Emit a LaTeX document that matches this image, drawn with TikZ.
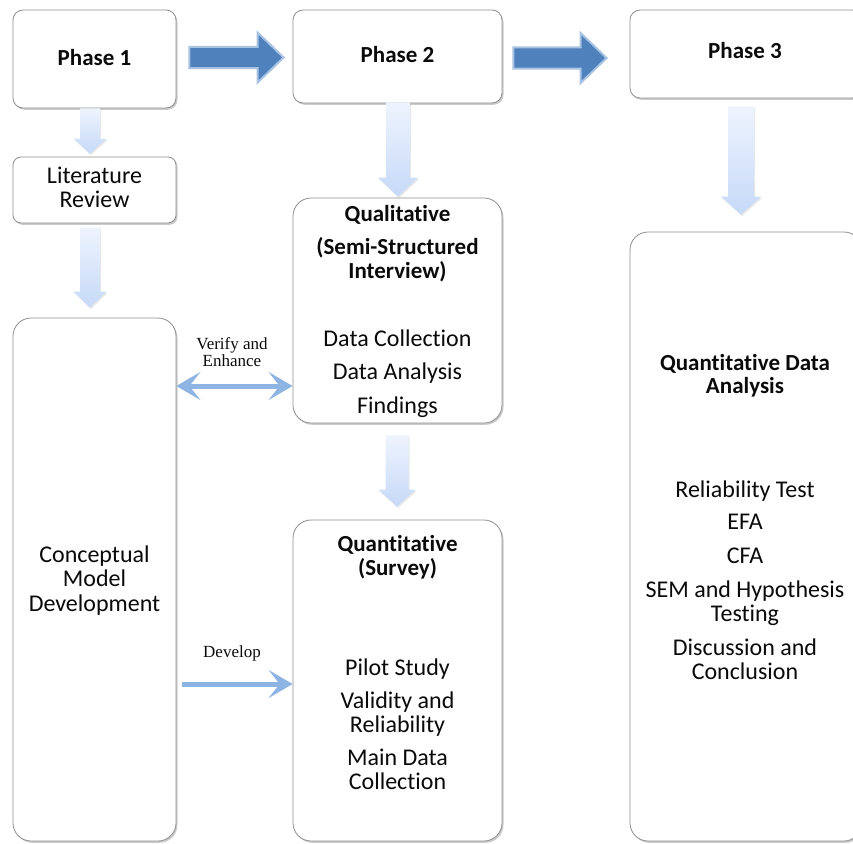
\documentclass[tikz,border=0pt]{standalone}
\usepackage{fontspec}
\setmainfont[RawFeature={-liga;-clig;-calt;-dlig}]{Carlito}
\newfontfamily\labelserif{Liberation Serif}
\usetikzlibrary{arrows.meta,calc,shadows}

\definecolor{boxline}{HTML}{8F8F8F}
\definecolor{bigblue}{HTML}{4F81BD}
\definecolor{bigrim}{HTML}{A8C2E2}
\definecolor{paletop}{HTML}{EEF4FE}
\definecolor{palebot}{HTML}{C6D9F8}
\definecolor{linkblue}{HTML}{8DB4E2}
\definecolor{inktext}{HTML}{0A0A0A}

% horizontal block arrow: from, to, start gap, end gap, vertical offset
\newcommand{\blockright}[5]{%
  \coordinate (bs) at ($(#1.east)+(#3,#5)$);
  \coordinate (be) at ($(#2.west |- bs)+(-#4,0)$);
  \filldraw[bigarrow] ($(bs)+(0,-10.5)$) -- ($(be)+(-26,-10.5)$) -- ($(be)+(-26,-25)$)
    -- (be) -- ($(be)+(-26,25)$) -- ($(be)+(-26,10.5)$) -- ($(bs)+(0,10.5)$) -- cycle;
}
% vertical pale block arrow: from, to, x offset, top gap, bottom gap,
% half shaft width, half head width, head length
\newcommand{\blockdown}[8]{%
  \coordinate (ds) at ($(#1.south)+(#3,#4)$);
  \coordinate (de) at ($(#2.north -| ds)+(0,-#5)$);
  \path[palearrow] ($(ds)+(-#6,0)$) -- ($(ds)+(#6,0)$) -- ($(de)+(#6,-#8)$)
    -- ($(de)+(#7,-#8)$) -- (de) -- ($(de)+(-#7,-#8)$) -- ($(de)+(-#6,-#8)$) -- cycle;
}

\begin{document}
\begin{tikzpicture}[x=1pt,y=-1pt,
  panel/.style={draw=boxline, line width=0.8pt, fill=white, rounded corners=#1,
    inner sep=0pt,
    drop shadow={shadow xshift=1.5pt, shadow yshift=-1.8pt, opacity=0.35, fill=black!60}},
  panel/.default=10pt,
  head/.style={font=\bfseries\fontsize{23}{24}\selectfont, text=inktext, anchor=base, inner sep=0pt},
  item/.style={font=\fontsize{24}{24}\selectfont, text=inktext, anchor=base, inner sep=0pt},
  note/.style={font=\labelserif\fontsize{17}{17}\selectfont, text=inktext, anchor=base, inner sep=0pt},
  bigarrow/.style={fill=bigblue, draw=bigrim, line width=2pt, line join=miter},
  palearrow/.style={top color=paletop, bottom color=palebot,
    drop shadow={shadow xshift=1pt, shadow yshift=-1.5pt, opacity=0.15, fill=black!60}},
  link/.style={draw=linkblue, line width=5pt, >={Stealth[length=24pt, width=28pt, inset=11pt]}}
]
\useasboundingbox (0,0) rectangle (853,843);
\clip (0,0) rectangle (853,843);

% ---- boxes ----
\node[panel] (p1) at (94.5,59) [minimum width=163pt, minimum height=98pt] {};
\node[panel] (p2) at (397.5,56.5) [minimum width=209pt, minimum height=93pt] {};
\node[panel] (p3) at (746,54) [minimum width=232pt, minimum height=88pt] {};
\node[panel=8pt] (lit) at (94.5,190) [minimum width=163pt, minimum height=66pt] {};
\node[panel=18pt] (concept) at (94.5,579.5) [minimum width=163pt, minimum height=523pt] {};
\node[panel=18pt] (qual) at (397.5,310.5) [minimum width=209pt, minimum height=225pt] {};
\node[panel=18pt] (quant) at (397.5,680.5) [minimum width=209pt, minimum height=321pt] {};
\node[panel=18pt] (qda) at (746,536.5) [minimum width=232pt, minimum height=609pt] {};

% ---- phase-to-phase arrows ----
\blockright{p1}{p2}{13}{9}{-1.5}
\blockright{p2}{p3}{11}{23}{1.5}

% ---- downward arrows ----
\blockdown{p1}{lit}{-4.5}{0}{3}{10}{16.5}{15}
\blockdown{lit}{concept}{-4.5}{4}{10}{10}{16.5}{16}
\blockdown{p2}{qual}{0.5}{-1}{1}{12}{20}{19}
\blockdown{qual}{quant}{-0.5}{12}{13}{11.5}{18.5}{17}
\blockdown{p3}{qda}{-5}{8}{17}{13}{20}{18}

% ---- side connectors ----
\coordinate (vrow) at (0,386);
\draw[link, <->] (concept.east |- vrow) -- (qual.west |- vrow);
\coordinate (drow) at (182,684);
\draw[link, ->] (drow) -- (quant.west |- drow);

\node[note] (verify1) at (232,349) {Verify and};
\node[note] (verify2) at (232,366) {Enhance};
\node[note] (develop) at (232,657) {Develop};

% ---- texts ----
\node[head] (t-p1) at (94.5,65) {Phase 1};
\node[head] (t-p2) at (397.5,63) {Phase 2};
\node[head] (t-p3) at (745,59) {Phase 3};

\node[item] (t-lit1) at (94.5,183) {Literature};
\node[item] (t-lit2) at (94.5,207) {Review};

\node[item] (t-cm1) at (94.5,562) {Conceptual};
\node[item] (t-cm2) at (94.5,586) {Model};
\node[item] (t-cm3) at (94.5,611) {Development};

\node[head] (t-ql1) at (397.5,221) {Qualitative};
\node[head] (t-ql2) at (397.5,254) {(Semi-Structured};
\node[head] (t-ql3) at (397.5,278) {Interview)};
\node[item] (t-ql4) at (397.5,346) {Data Collection};
\node[item] (t-ql5) at (397.5,379) {Data Analysis};
\node[item] (t-ql6) at (397.5,413) {Findings};

\node[head] (t-qn1) at (397.5,551) {Quantitative};
\node[head] (t-qn2) at (397.5,575) {(Survey)};
\node[item] (t-qn3) at (397.5,675) {Pilot Study};
\node[item] (t-qn4) at (397.5,708) {Validity and};
\node[item] (t-qn5) at (397.5,732) {Reliability};
\node[item] (t-qn6) at (397.5,765) {Main Data};
\node[item] (t-qn7) at (397.5,789) {Collection};

\node[head] (t-qd1) at (745,370) {Quantitative Data};
\node[head] (t-qd2) at (745,393) {Analysis};
\node[item] (t-qd3) at (745,497) {Reliability Test};
\node[item] (t-qd4) at (745,529) {EFA};
\node[item] (t-qd5) at (745,563) {CFA};
\node[item] (t-qd6) at (745,597) {SEM and Hypothesis};
\node[item] (t-qd7) at (745,621) {Testing};
\node[item] (t-qd8) at (745,655) {Discussion and};
\node[item] (t-qd9) at (745,679) {Conclusion};
\end{tikzpicture}
\end{document}
